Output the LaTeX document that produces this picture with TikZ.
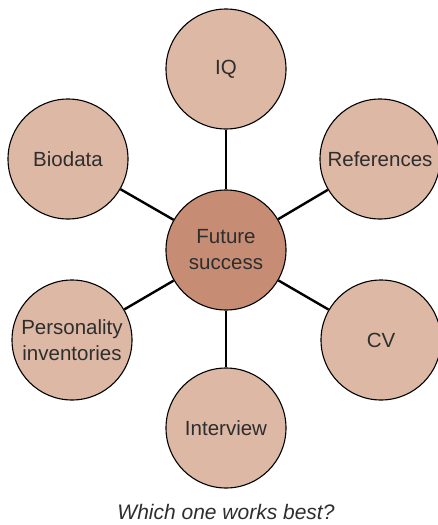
\documentclass[tikz,border=0pt]{standalone}
\usepackage{fontspec}
\setmainfont{Liberation Sans}
\usepackage{tikz}
\usetikzlibrary{positioning}
\definecolor{petal}{HTML}{DDB8A4}
\definecolor{core}{HTML}{C68C74}
\definecolor{ink}{HTML}{2E2E2E}
\tikzset{
    petalnode/.style = {circle, draw=black, line width=1.1pt, minimum size=120pt, inner sep=0pt, align=center, fill=petal, text=ink, font=\fontsize{20.5}{26}\selectfont},
    corenode/.style = {petalnode, fill=core},
    spoke/.style = {line width=2.4pt, black},
    caption/.style = {text=ink, font=\fontsize{21}{25}\selectfont\itshape}
}

\begin{document}
\begin{tikzpicture}[x=1pt,y=-1pt]
\useasboundingbox (0,0) rectangle (438,525);
\node[corenode] at (226, 250) (hub) {Future\\success};
\node[petalnode] at (226, 69) (iq) {IQ};
\node[petalnode] at (380, 159) (refs) {References};
\node[petalnode] at (381, 340) (cv) {CV};
\node[petalnode] at (226, 428) (interview) {Interview};
\node[petalnode] at (72, 340) (personality) {Personality\\inventories};
\node[petalnode] at (68, 159) (biodata) {Biodata};
%
\foreach \n in {iq,refs,cv,interview,personality,biodata}
    \draw[spoke] (hub) -- (\n);
%
\node[caption] at (226, 512) (question) {Which one works best?};
\end{tikzpicture}
\end{document}
